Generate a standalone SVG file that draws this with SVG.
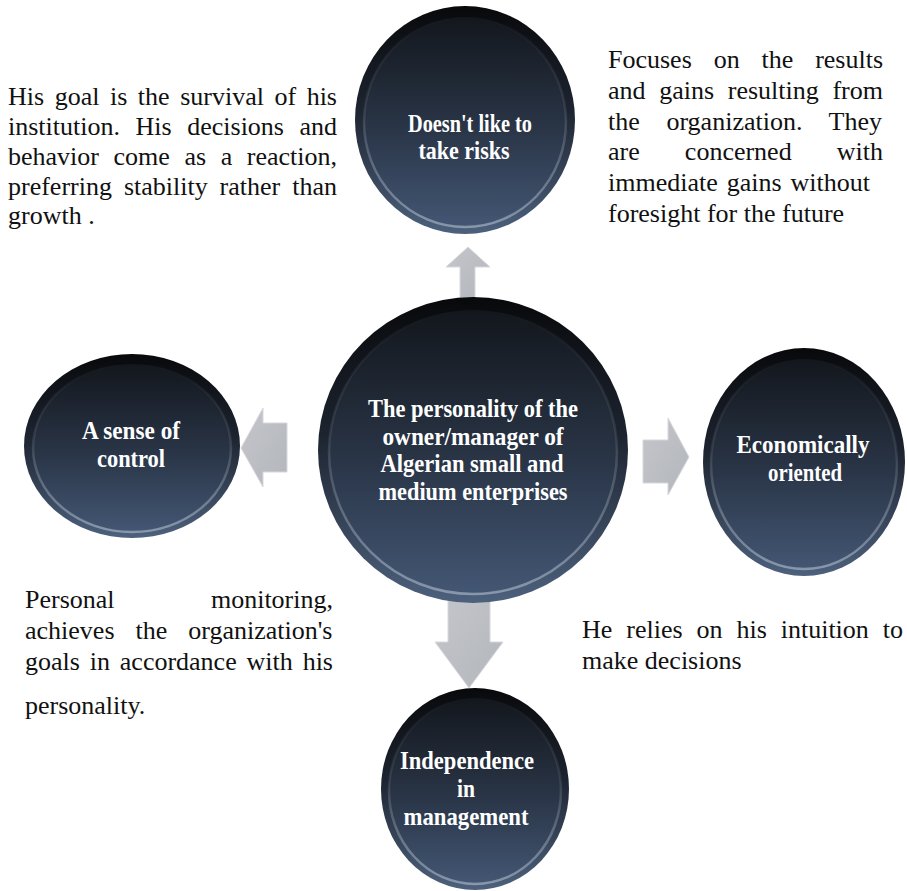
<svg xmlns="http://www.w3.org/2000/svg" width="907" height="891" viewBox="0 0 907 891">
  <defs>
    <linearGradient id="discOuter" x1="0" y1="0" x2="0" y2="1">
      <stop offset="0" stop-color="#08090b"/>
      <stop offset="0.45" stop-color="#1d2430"/>
      <stop offset="1" stop-color="#4d617d"/>
    </linearGradient>
    <linearGradient id="discInner" x1="0" y1="0" x2="0" y2="1">
      <stop offset="0" stop-color="#13171d"/>
      <stop offset="0.5" stop-color="#283344"/>
      <stop offset="1" stop-color="#435673"/>
    </linearGradient>
    <linearGradient id="discRim" x1="0" y1="0" x2="0" y2="1">
      <stop offset="0" stop-color="#ffffff" stop-opacity="0"/>
      <stop offset="0.45" stop-color="#c9d3e0" stop-opacity="0.12"/>
      <stop offset="1" stop-color="#c9d3e0" stop-opacity="0.5"/>
    </linearGradient>
    <linearGradient id="arrowFill" x1="0" y1="0" x2="1" y2="1">
      <stop offset="0" stop-color="#c4c6cb"/>
      <stop offset="1" stop-color="#b3b6bc"/>
    </linearGradient>
  </defs>
  <style>
    .outer { fill: url(#discOuter); }
    .inner { fill: url(#discInner); stroke: url(#discRim); stroke-width: 2.5; }
    .arrow { fill: url(#arrowFill); stroke: #d6d8dc; stroke-width: 1; }
    .label { font-family: "Liberation Serif", "Times New Roman", serif; font-weight: bold; font-size: 26px; fill: #ffffff; text-anchor: middle; }
    .body { font-family: "Liberation Serif", "Times New Roman", serif; font-size: 26px; fill: #111111; }
  </style>

  <rect width="907" height="891" fill="#ffffff"/>

  <!-- block arrows from the central disc -->
  <g id="connectors">
    <polygon class="arrow" points="460,298 460,267 446,267 468,247 490,267 475,267 475,298"/>
    <polygon class="arrow" points="241,448 263,408 263,423 287,423 287,472 263,472 263,487"/>
    <polygon class="arrow" points="643,440 668,440 668,418 689,457 668,495 668,483 643,483"/>
    <polygon class="arrow" points="448,598 490,598 490,642 503,642 469,688 435,642 448,642"/>
  </g>

  <g id="node-center">
    <ellipse class="outer" cx="473" cy="450" rx="155" ry="153"/>
    <ellipse class="inner" cx="473" cy="452" rx="144" ry="142"/>
    <text class="label" x="473" y="417" textLength="210" lengthAdjust="spacingAndGlyphs">The personality of the</text>
    <text class="label" x="473" y="445" textLength="181" lengthAdjust="spacingAndGlyphs">owner/manager  of</text>
    <text class="label" x="472" y="472" textLength="183" lengthAdjust="spacingAndGlyphs">Algerian small and</text>
    <text class="label" x="473" y="500" textLength="189" lengthAdjust="spacingAndGlyphs">medium enterprises</text>
  </g>

  <g id="node-risk">
    <ellipse class="outer" cx="465" cy="120" rx="110" ry="114"/>
    <ellipse class="inner" cx="465" cy="122" rx="101" ry="105"/>
    <text class="label" x="470" y="132" textLength="124" lengthAdjust="spacingAndGlyphs">Doesn't like to</text>
    <text class="label" x="464" y="159" textLength="91" lengthAdjust="spacingAndGlyphs">take risks</text>
  </g>

  <g id="node-control">
    <ellipse class="outer" cx="132" cy="446" rx="108" ry="92"/>
    <ellipse class="inner" cx="132" cy="448" rx="99" ry="84"/>
    <text class="label" x="131" y="439" textLength="98" lengthAdjust="spacingAndGlyphs">A sense of</text>
    <text class="label" x="131" y="467" textLength="68" lengthAdjust="spacingAndGlyphs">control</text>
  </g>

  <g id="node-economic">
    <ellipse class="outer" cx="804" cy="462" rx="101" ry="114"/>
    <ellipse class="inner" cx="804" cy="464" rx="93" ry="105"/>
    <text class="label" x="803" y="453" textLength="133" lengthAdjust="spacingAndGlyphs">Economically</text>
    <text class="label" x="805" y="481" textLength="74" lengthAdjust="spacingAndGlyphs">oriented</text>
  </g>

  <g id="node-independence">
    <ellipse class="outer" cx="475" cy="789" rx="94" ry="101"/>
    <ellipse class="inner" cx="475" cy="791" rx="86" ry="93"/>
    <text class="label" x="467" y="769" textLength="134" lengthAdjust="spacingAndGlyphs">Independence</text>
    <text class="label" x="466" y="797" textLength="18" lengthAdjust="spacingAndGlyphs">in</text>
    <text class="label" x="466" y="825" textLength="125" lengthAdjust="spacingAndGlyphs">management</text>
  </g>

  <!-- descriptive paragraphs (justified by per-line word spacing) -->
  <g id="note-risk">
    <text class="body" x="8" y="105" word-spacing="4.04">His goal is the survival of his</text>
    <text class="body" x="8" y="135" word-spacing="9.07">institution. His decisions and</text>
    <text class="body" x="8" y="165" word-spacing="8.07">behavior come as a reaction,</text>
    <text class="body" x="8" y="195" word-spacing="5.45">preferring stability rather than</text>
    <text class="body" x="8" y="224">growth .</text>
  </g>

  <g id="note-economic-top">
    <text class="body" x="608" y="68" word-spacing="15.37">Focuses on the results</text>
    <text class="body" x="608" y="99" word-spacing="7.17">and gains resulting from</text>
    <text class="body" x="608" y="130" word-spacing="20.16">the organization. They</text>
    <text class="body" x="608" y="160" word-spacing="38.6">are concerned with</text>
    <text class="body" x="608" y="191" word-spacing="2.45">immediate gains without</text>
    <text class="body" x="608" y="222">foresight for the future</text>
  </g>

  <g id="note-control">
    <text class="body" x="25" y="608" word-spacing="89.9">Personal monitoring,</text>
    <text class="body" x="25" y="639" word-spacing="14.47">achieves the organization's</text>
    <text class="body" x="25" y="670" word-spacing="3.35">goals in accordance with his</text>
    <text class="body" x="25" y="714">personality.</text>
  </g>

  <g id="note-intuition">
    <text class="body" x="582" y="638" word-spacing="7.44">He relies on his intuition to</text>
    <text class="body" x="582" y="669">make decisions</text>
  </g>
</svg>
